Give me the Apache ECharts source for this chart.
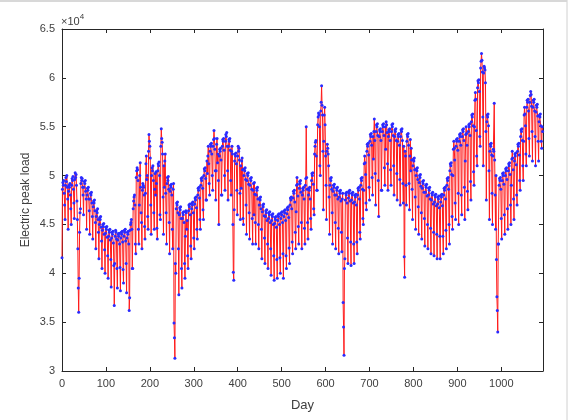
<!DOCTYPE html>
<html>
<head>
<meta charset="utf-8">
<script src="https://cdn.jsdelivr.net/npm/echarts@6/dist/echarts.min.js"></script>
<style>
  html, body { margin: 0; padding: 0; background: #fff; }
  #chart { width: 577px; height: 420px; }
</style>
</head>
<body>
<div id="chart"></div>
<script>
// daily peak load, in units of 1e4, one row per week
const loadPart1 = [
  4.16, 4.86, 4.93, 4.90, 4.95, 4.82, 4.70,
  4.55, 4.90, 4.98, 4.94, 5.00, 4.88, 4.76,
  4.45, 4.84, 4.90, 4.88, 4.92, 4.80, 4.66,
  4.50, 4.90, 4.97, 4.95, 4.99, 4.86, 4.72,
  4.56, 4.96, 5.03, 4.98, 5.01, 4.90, 4.74,
  4.55, 4.25, 3.85, 3.60, 3.95, 4.42, 4.62,
  4.66, 4.92, 4.98, 4.95, 4.97, 4.88, 4.80,
  4.60, 4.88, 4.94, 4.92, 4.95, 4.84, 4.76,
  4.45, 4.80, 4.87, 4.85, 4.88, 4.76, 4.64,
  4.40, 4.76, 4.82, 4.80, 4.83, 4.72, 4.58,
  4.35, 4.68, 4.74, 4.72, 4.75, 4.64, 4.52,
  4.25, 4.58, 4.64, 4.62, 4.66, 4.55, 4.42,
  4.15, 4.50, 4.57, 4.55, 4.58, 4.47, 4.33,
  4.05, 4.44, 4.50, 4.48, 4.51, 4.40, 4.24,
  4.00, 4.41, 4.47, 4.45, 4.48, 4.37, 4.18,
  3.95, 4.38, 4.44, 4.42, 4.45, 4.34, 4.14,
  3.86, 4.36, 4.42, 4.40, 4.43, 4.31, 4.08,
  3.67, 4.10, 4.38, 4.44, 4.42, 4.35, 4.05,
  3.85, 4.34, 4.40, 4.38, 4.41, 4.30, 4.06,
  3.82, 4.36, 4.42, 4.40, 4.43, 4.32, 4.04,
  3.90, 4.38, 4.44, 4.42, 4.45, 4.33, 4.10,
  3.80, 4.36, 4.42, 4.40, 4.43, 4.30, 3.62,
  3.75, 4.44, 4.50, 4.52, 4.55, 4.45, 4.05,
  4.05, 4.66, 4.74, 4.78, 4.80, 4.70, 4.30,
  4.20, 4.98, 5.05, 5.08, 5.06, 4.95, 4.45,
  4.30, 4.70, 5.00, 5.13, 4.88, 4.62, 4.52,
  4.25, 4.85, 4.92, 4.90, 4.88, 4.80, 4.48,
  4.35, 4.82, 5.12, 5.20, 4.96, 5.00, 4.58,
  4.45, 5.25, 5.42, 5.35, 5.30, 5.18, 4.70,
  4.40, 5.00, 5.08, 5.05, 5.10, 4.95, 4.62,
  4.45, 4.86, 5.02, 4.80, 5.04, 4.92, 4.46,
  4.35, 5.05, 5.12, 5.10, 5.14, 5.00, 4.60,
  4.55, 5.30, 5.48, 5.38, 5.34, 5.22, 4.78,
  4.40, 5.10, 4.88, 5.15, 5.22, 4.82, 4.62,
  4.30, 4.92, 4.98, 4.95, 4.99, 4.86, 4.52,
  4.20, 4.84, 4.90, 4.88, 4.91, 4.80, 4.45,
  4.25, 4.86, 4.92, 3.49, 3.34, 3.13, 4.10,
  4.00, 4.66, 4.72, 4.70, 4.73, 4.62, 4.25,
  3.78, 4.60, 4.67, 4.65, 4.68, 4.56, 4.05,
  3.85, 4.56, 4.62, 4.60, 4.63, 4.52, 4.10,
  3.95, 4.38, 4.64, 4.62, 4.45, 4.54, 4.18,
  4.05, 4.64, 4.70, 4.68, 4.71, 4.60, 4.28,
  4.15, 4.66, 4.72, 4.70, 4.73, 4.62, 4.36,
  4.25, 4.71, 4.77, 4.75, 4.78, 4.67, 4.45,
  4.35, 4.80, 4.87, 4.85, 4.88, 4.77, 4.55,
  4.45, 4.90, 4.97, 4.95, 4.98, 4.87, 4.65,
  4.55, 5.00, 5.07, 5.05, 5.08, 4.97, 4.75,
  4.75, 5.15, 5.02, 5.20, 5.30, 5.12, 4.92,
  4.80, 5.25, 5.32, 5.30, 5.33, 5.22, 5.00,
  4.85, 5.30, 5.37, 5.46, 5.38, 5.27, 5.05,
  4.75, 5.05, 5.32, 5.38, 5.13, 5.22, 4.95,
  4.50, 5.20, 5.27, 5.25, 5.28, 5.16, 4.80
];
const loadPart2 = [
  4.80, 5.30, 5.37, 5.35, 5.38, 5.26, 5.00,
  4.85, 5.35, 5.42, 5.40, 5.44, 5.30, 5.05,
  4.75, 5.30, 5.37, 5.35, 5.38, 5.26, 4.95,
  4.80, 5.25, 5.30, 5.22, 4.50, 4.01, 3.93,
  4.65, 5.15, 5.22, 5.20, 5.23, 5.12, 4.85,
  4.60, 5.20, 5.30, 5.25, 5.28, 5.16, 4.82,
  4.55, 5.10, 4.87, 5.15, 5.18, 5.06, 4.56,
  4.50, 5.00, 5.07, 5.05, 5.08, 4.96, 4.70,
  4.40, 4.95, 5.02, 5.00, 5.03, 4.91, 4.62,
  4.35, 4.90, 4.97, 4.95, 4.98, 4.86, 4.56,
  4.30, 4.85, 4.92, 4.60, 4.93, 4.81, 4.52,
  4.30, 4.80, 4.87, 4.85, 4.88, 4.76, 4.50,
  4.25, 4.70, 4.77, 4.75, 4.78, 4.66, 4.45,
  4.15, 4.63, 4.70, 4.68, 4.71, 4.59, 4.36,
  4.10, 4.58, 4.64, 4.62, 4.65, 4.54, 4.30,
  4.05, 4.56, 4.62, 4.60, 4.63, 4.52, 4.25,
  3.98, 4.54, 4.60, 4.58, 4.61, 4.50, 4.18,
  3.93, 4.51, 4.57, 4.55, 4.58, 4.47, 4.14,
  3.95, 4.54, 4.60, 4.58, 4.61, 4.50, 4.16,
  4.00, 4.56, 4.62, 4.60, 4.63, 4.52, 4.20,
  3.95, 4.58, 4.64, 4.62, 4.65, 4.54, 4.18,
  4.05, 4.61, 4.67, 4.65, 4.68, 4.57, 4.26,
  4.10, 4.70, 4.77, 4.75, 4.78, 4.66, 4.32,
  4.20, 4.77, 4.84, 4.82, 4.85, 4.73, 4.42,
  4.25, 4.63, 4.90, 4.98, 4.91, 4.79, 4.48,
  4.30, 4.87, 4.94, 4.92, 4.95, 4.83, 4.52,
  4.25, 4.80, 4.87, 4.85, 4.88, 4.76, 4.46,
  4.30, 4.90, 4.97, 5.50, 4.98, 4.86, 4.52,
  4.35, 4.80, 4.87, 4.85, 4.88, 4.76, 4.56,
  4.45, 4.95, 5.02, 5.00, 5.03, 4.91, 4.66,
  4.60, 5.22, 5.30, 5.34, 5.36, 5.20, 4.85,
  4.85, 5.52, 5.60, 5.64, 5.62, 5.50, 5.10,
  5.00, 5.66, 5.75, 5.92, 5.72, 5.62, 5.25,
  4.65, 5.35, 5.62, 5.70, 5.52, 5.20, 4.90,
  4.55, 5.25, 5.32, 5.28, 5.22, 5.10, 4.78,
  4.40, 4.90, 4.97, 4.95, 4.98, 4.86, 4.62,
  4.30, 4.84, 4.90, 4.88, 4.91, 4.80, 4.52,
  4.25, 4.80, 4.87, 4.85, 4.88, 4.76, 4.46,
  4.20, 4.78, 4.84, 4.82, 4.85, 4.74, 4.42,
  4.22, 4.76, 4.82, 3.70, 3.45, 3.16, 4.05,
  4.15, 4.75, 4.82, 4.80, 4.83, 4.72, 4.36,
  4.10, 4.77, 4.84, 4.82, 4.85, 4.74, 4.32,
  4.08, 4.75, 4.82, 4.80, 4.83, 4.72, 4.30,
  4.10, 4.73, 4.80, 4.78, 4.81, 4.70, 4.32,
  4.20, 4.80, 4.87, 4.85, 4.88, 4.76, 4.42,
  4.35, 4.90, 4.97, 4.95, 4.98, 4.86, 4.56,
  4.50, 4.85, 5.12, 5.20, 5.13, 5.01, 4.72,
  4.65, 5.25, 5.32, 5.30, 5.33, 5.21, 4.88,
  4.75, 5.35, 5.42, 5.40, 5.43, 5.31, 4.98,
  4.80, 5.40, 5.17, 5.45, 5.58, 5.36, 5.02,
  4.70, 5.45, 5.52, 5.50, 5.53, 5.41, 4.95,
  4.58, 5.40, 5.47, 5.45, 5.48, 5.36, 4.85
];
const loadPart3 = [
  4.85, 5.45, 5.52, 5.50, 5.53, 5.41, 5.08,
  4.90, 5.50, 5.27, 5.55, 5.52, 5.44, 5.12,
  4.85, 5.40, 5.47, 5.45, 5.48, 5.36, 5.06,
  4.90, 5.45, 5.52, 5.50, 5.53, 5.41, 5.10,
  4.80, 5.40, 5.47, 5.45, 5.48, 5.36, 5.02,
  4.75, 5.35, 5.42, 5.40, 5.43, 5.31, 4.96,
  4.70, 5.40, 5.47, 5.45, 5.48, 5.36, 4.92,
  4.72, 5.30, 4.17, 3.96, 5.25, 5.20, 4.90,
  4.70, 5.35, 5.42, 5.40, 5.43, 5.31, 4.92,
  4.65, 5.20, 5.37, 5.05, 5.28, 5.16, 4.86,
  4.55, 5.10, 5.17, 5.15, 5.18, 5.06, 4.78,
  4.45, 5.00, 5.07, 5.05, 5.08, 4.96, 4.68,
  4.40, 4.93, 5.00, 4.98, 5.01, 4.89, 4.62,
  4.35, 4.87, 4.94, 4.92, 4.95, 4.83, 4.56,
  4.28, 4.83, 4.90, 4.88, 4.91, 4.79, 4.50,
  4.25, 4.80, 4.87, 4.85, 4.88, 4.76, 4.46,
  4.20, 4.75, 4.82, 4.80, 4.83, 4.71, 4.42,
  4.18, 4.73, 4.80, 4.78, 4.81, 4.69, 4.40,
  4.15, 4.71, 4.78, 4.76, 4.79, 4.67, 4.38,
  4.15, 4.73, 4.80, 4.78, 4.81, 4.69, 4.38,
  4.20, 4.80, 4.87, 4.85, 4.88, 4.76, 4.44,
  4.25, 4.90, 4.97, 4.95, 4.98, 4.86, 4.50,
  4.30, 5.05, 5.12, 5.10, 5.13, 5.01, 4.58,
  4.45, 5.00, 5.27, 5.35, 5.28, 5.16, 4.72,
  4.55, 5.30, 5.37, 5.35, 5.38, 5.26, 4.82,
  4.50, 5.35, 5.42, 5.40, 5.43, 5.31, 4.80,
  4.60, 5.40, 5.47, 5.45, 5.48, 5.36, 4.88,
  4.55, 5.15, 5.42, 5.50, 5.43, 5.31, 4.84,
  4.65, 5.45, 5.52, 5.50, 5.53, 5.41, 4.94,
  4.75, 5.55, 5.62, 5.60, 5.63, 5.51, 5.04,
  4.90, 5.50, 5.77, 5.85, 5.78, 5.46, 5.20,
  5.10, 5.90, 5.97, 5.95, 5.98, 5.86, 5.40,
  5.30, 6.10, 6.17, 6.25, 6.18, 6.06, 5.60,
  5.10, 6.05, 6.12, 6.10, 6.08, 5.95, 5.45,
  4.75, 5.55, 5.62, 5.60, 5.63, 5.51, 5.05,
  4.55, 5.25, 5.32, 5.30, 5.33, 5.21, 4.82,
  4.50, 5.20, 5.27, 5.25, 5.74, 5.16, 4.80,
  4.45, 5.00, 4.14, 3.76, 3.62, 3.40, 4.30,
  4.30, 4.90, 4.97, 4.95, 4.98, 4.86, 4.56,
  4.35, 4.95, 5.02, 5.00, 5.03, 4.91, 4.60,
  4.40, 5.00, 5.07, 5.05, 5.08, 4.96, 4.66,
  4.45, 5.05, 5.12, 5.10, 5.13, 5.01, 4.70,
  4.50, 4.90, 5.17, 5.25, 5.18, 5.06, 4.76,
  4.55, 5.15, 5.22, 5.20, 5.23, 5.11, 4.80,
  4.70, 5.25, 5.32, 5.30, 5.33, 5.21, 4.95,
  4.85, 5.40, 5.47, 5.45, 5.48, 5.36, 5.10,
  4.95, 5.35, 5.62, 5.70, 5.63, 5.51, 5.22,
  5.10, 5.70, 5.77, 5.75, 5.78, 5.66, 5.38,
  5.20, 5.75, 5.82, 5.86, 5.83, 5.71, 5.45,
  5.15, 5.70, 5.77, 5.75, 5.78, 5.66, 5.40,
  5.10, 5.65, 5.72, 5.70, 5.73, 5.61, 5.35,
  5.15, 5.55, 5.62, 5.60, 5.63, 5.51, 5.35,
  5.28, 5.50, 5.45
];

const xTicks = [0, 100, 200, 300, 400, 500, 600, 700, 800, 900, 1000];
const yTicks = [3, 3.5, 4, 4.5, 5, 5.5, 6, 6.5];

const loadAll = loadPart1.concat(loadPart2, loadPart3);
const points = loadAll.map((v, i) => [i, v]);

const chart = echarts.init(document.getElementById('chart'));
const axisColor = '#262626';
const labelColor = '#404040';
const font = 'Liberation Sans, Arial, sans-serif';

const baseX = {
  type: 'value', min: 0, max: loadAll.length, interval: 100,
  axisLine: { show: true, onZero: false, lineStyle: { color: axisColor, width: 1 } },
  axisTick: { show: true, inside: true, length: 4, lineStyle: { color: axisColor } },
  splitLine: { show: false }
};
const baseY = {
  type: 'value', min: yTicks[0], max: yTicks[yTicks.length - 1], interval: 0.5,
  axisLine: { show: true, onZero: false, lineStyle: { color: axisColor, width: 1 } },
  axisTick: { show: true, inside: true, length: 4, lineStyle: { color: axisColor } },
  splitLine: { show: false }
};

chart.setOption({
  animation: false,
  backgroundColor: '#fff',
  grid: { left: 62, right: 34, top: 29, bottom: 49 },
  xAxis: [
    Object.assign({}, baseX, {
      position: 'bottom',
      name: 'Day', nameLocation: 'middle', nameGap: 28,
      nameTextStyle: { color: labelColor, fontSize: 13, fontFamily: font },
      axisLabel: { color: labelColor, fontSize: 11, fontFamily: font, margin: 7,
        formatter: v => xTicks.indexOf(v) >= 0 ? String(v) : '' }
    }),
    Object.assign({}, baseX, { position: 'top', axisLabel: { show: false } })
  ],
  yAxis: [
    Object.assign({}, baseY, {
      position: 'left',
      name: 'Electric peak load', nameLocation: 'middle', nameGap: 30,
      nameMoveOverlap: false,
      nameTextStyle: { color: labelColor, fontSize: 12, fontFamily: font },
      axisLabel: { color: labelColor, fontSize: 11, fontFamily: font, margin: 7,
        formatter: v => String(v) }
    }),
    Object.assign({}, baseY, { position: 'right', axisLabel: { show: false } })
  ],
  graphic: [
    {
      type: 'text', left: 61, top: 13,
      style: {
        text: '{a|×10}{b|4}',
        rich: {
          a: { fontSize: 11, fontFamily: font, fill: labelColor, verticalAlign: 'bottom' },
          b: { fontSize: 8, fontFamily: font, fill: labelColor, verticalAlign: 'top', padding: [0, 0, 6, 0] }
        }
      }
    },
    { type: 'line', shape: { x1: 567, y1: 0, x2: 567, y2: 420 }, style: { stroke: '#d0d0d0', lineWidth: 1 } },
    { type: 'line', shape: { x1: 0, y1: 1, x2: 567, y2: 1 }, style: { stroke: '#d8d8d8', lineWidth: 2 } }
  ],
  series: [{
    type: 'line',
    data: points,
    xAxisIndex: 0,
    yAxisIndex: 0,
    symbol: 'circle',
    symbolSize: 3,
    showSymbol: true,
    showAllSymbol: true,
    itemStyle: { color: '#2a2aff' },
    lineStyle: { color: '#ff1a1a', width: 1 },
    emphasis: { disabled: true }
  }]
});
</script>
</body>
</html>
